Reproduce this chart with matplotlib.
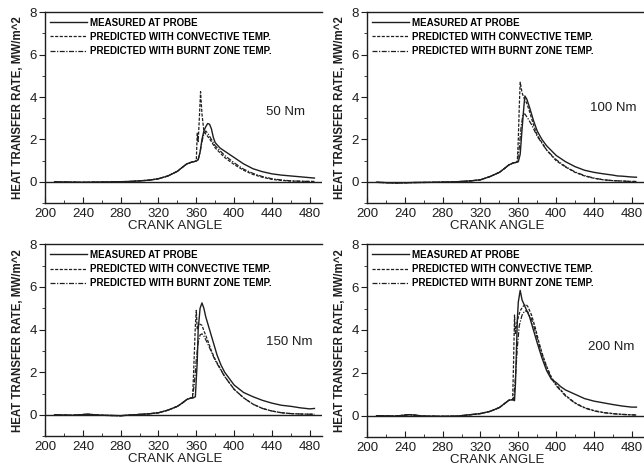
import numpy as np
import matplotlib
matplotlib.use("Agg")
import matplotlib.pyplot as plt
from matplotlib.ticker import MultipleLocator

plt.rcParams['font.family'] = ['Liberation Sans', 'DejaVu Sans']

labels = ["MEASURED AT PROBE",
          "PREDICTED WITH CONVECTIVE TEMP.",
          "PREDICTED WITH BURNT ZONE TEMP."]
loads = ["50 Nm", "100 Nm", "150 Nm", "200 Nm"]

# common part before ignition (all three curves overlap there)
pre_x = [
    [210, 240, 270, 290, 300, 310, 320, 330, 340, 345, 350, 355, 359],
    [210, 230, 250, 270, 290, 300, 310, 320, 330, 340, 345, 350, 355, 358],
    [210, 230, 245, 260, 280, 300, 310, 320, 330, 340, 345, 350, 355],
    [210, 230, 245, 260, 280, 295, 310, 320, 330, 340, 345, 350, 354],
]
pre_y = [
    [0, -0.02, 0, 0.02, 0.05, 0.08, 0.15, 0.28, 0.5, 0.68, 0.85, 0.93, 0.97],
    [-0.02, -0.05, -0.03, -0.02, 0, 0.02, 0.05, 0.1, 0.25, 0.45, 0.62, 0.8, 0.9, 0.92],
    [0, -0.02, 0.03, -0.02, -0.04, 0.02, 0.05, 0.1, 0.22, 0.4, 0.55, 0.72, 0.8],
    [0, -0.02, 0.05, -0.02, -0.03, -0.02, 0.05, 0.1, 0.2, 0.38, 0.55, 0.72, 0.75],
]

# measured at probe
meas_x = [
    [360, 362, 364, 366, 368, 370, 372, 374, 376, 378, 380, 385, 390, 400, 410, 420, 430, 440, 450, 460, 470, 480, 485],
    [360, 362, 364, 366, 367, 369, 372, 376, 380, 385, 390, 400, 410, 420, 430, 440, 450, 460, 465, 470, 480, 485],
    [357, 359, 361, 362, 364, 366, 368, 370, 374, 378, 382, 386, 390, 400, 410, 420, 430, 440, 450, 460, 470, 480, 485],
    [356, 357, 358, 359, 360, 362, 364, 366, 368, 372, 376, 380, 385, 390, 395, 400, 405, 410, 420, 430, 440, 450, 460, 470, 480, 485],
]
meas_y = [
    [0.98, 1.05, 1.4, 2.0, 2.4, 2.6, 2.75, 2.72, 2.5, 2.1, 1.85, 1.6, 1.45, 1.15, 0.85, 0.62, 0.48, 0.38, 0.32, 0.28, 0.24, 0.2, 0.18],
    [0.95, 1.3, 2.5, 3.6, 4.05, 3.9, 3.5, 2.9, 2.4, 2.0, 1.7, 1.25, 0.95, 0.72, 0.55, 0.45, 0.38, 0.32, 0.28, 0.27, 0.23, 0.22],
    [0.8, 0.85, 2.5, 4.0, 5.0, 5.25, 5.0, 4.6, 4.0, 3.4, 2.8, 2.35, 2.0, 1.4, 1.05, 0.85, 0.68, 0.55, 0.45, 0.4, 0.33, 0.28, 0.3],
    [0.7, 1.5, 3.0, 4.5, 5.3, 5.85, 5.4, 5.2, 5.0, 4.6, 4.0, 3.4, 2.7, 2.1, 1.7, 1.55, 1.35, 1.2, 1.0, 0.8, 0.68, 0.6, 0.52, 0.45, 0.4, 0.4],
]

# predicted with convective temperature
conv_x = [
    [360, 361, 362, 363, 364.5, 366, 368, 370, 372, 376, 380, 390, 400, 410, 420, 430, 440, 450, 460, 470, 480, 485],
    [359, 360, 361, 362, 364, 366, 369, 372, 376, 380, 390, 400, 410, 420, 430, 440, 450, 460, 470, 480, 485],
    [356, 357, 358, 359, 360, 361, 362, 364, 366, 368, 372, 376, 380, 390, 400, 410, 420, 430, 440, 450, 460, 470, 480, 485],
    [354, 355, 356, 357, 358, 360, 362, 365, 368, 370, 374, 378, 382, 386, 390, 395, 400, 410, 420, 430, 440, 450, 460, 470, 480, 485],
]
conv_y = [
    [1.0, 2.3, 1.9, 2.8, 4.25, 3.2, 2.4, 2.25, 2.15, 1.9, 1.6, 1.15, 0.82, 0.55, 0.35, 0.22, 0.12, 0.07, 0.04, 0.03, 0.02, 0.02],
    [1.0, 2.0, 3.5, 4.7, 4.2, 3.95, 3.7, 3.3, 2.7, 2.2, 1.5, 1.0, 0.7, 0.45, 0.28, 0.17, 0.1, 0.06, 0.04, 0.02, 0.02],
    [0.8, 1.8, 3.0, 4.2, 4.9, 4.0, 4.2, 4.25, 4.2, 3.95, 3.5, 3.0, 2.6, 1.8, 1.2, 0.8, 0.5, 0.3, 0.18, 0.1, 0.06, 0.04, 0.03, 0.03],
    [0.75, 2.5, 4.7, 3.8, 4.2, 4.6, 4.9, 5.1, 5.2, 5.1, 4.7, 4.1, 3.4, 2.8, 2.3, 1.8, 1.45, 0.95, 0.6, 0.38, 0.24, 0.15, 0.1, 0.06, 0.04, 0.03],
]

# predicted with burnt zone temperature
burnt_x = [
    [360, 362, 364, 366, 368, 370, 372, 376, 380, 390, 400, 410, 420, 430, 440, 450, 460, 470, 480, 485],
    [359, 361, 363, 365, 367, 370, 374, 380, 390, 400, 410, 420, 430, 440, 450, 460, 470, 480, 485],
    [356, 358, 360, 362, 364, 366, 368, 372, 376, 380, 390, 400, 410, 420, 430, 440, 450, 460, 470, 480, 485],
    [355, 357, 359, 361, 364, 367, 370, 374, 378, 382, 386, 390, 395, 400, 410, 420, 430, 440, 450, 460, 470, 480, 485],
]
burnt_y = [
    [1.0, 1.05, 1.4, 1.9, 2.25, 2.4, 2.3, 2.0, 1.7, 1.25, 0.9, 0.6, 0.4, 0.25, 0.15, 0.09, 0.05, 0.03, 0.02, 0.02],
    [0.95, 1.6, 2.6, 3.2, 3.2, 3.0, 2.7, 2.15, 1.5, 1.05, 0.72, 0.47, 0.3, 0.18, 0.1, 0.06, 0.04, 0.02, 0.02],
    [0.8, 1.5, 2.6, 3.4, 3.75, 3.8, 3.7, 3.35, 2.95, 2.55, 1.8, 1.2, 0.8, 0.5, 0.3, 0.18, 0.1, 0.06, 0.04, 0.03, 0.03],
    [0.75, 1.8, 3.2, 4.2, 4.7, 4.9, 4.85, 4.5, 3.95, 3.3, 2.75, 2.25, 1.75, 1.4, 0.92, 0.58, 0.36, 0.22, 0.14, 0.09, 0.06, 0.04, 0.03],
]

load_pos = [(434, 3.3), (436, 3.5), (434, 3.4), (434, 3.2)]

boxes = [
    [0.070, 0.566, 0.430, 0.408],
    [0.570, 0.566, 0.430, 0.408],
    [0.070, 0.068, 0.430, 0.410],
    [0.570, 0.066, 0.430, 0.412],
]

ink = "#1e1e1e"
fig = plt.figure(figsize=(6.44, 4.68), dpi=100)

for i in range(4):
    ax = fig.add_axes(boxes[i])
    px, py = pre_x[i], pre_y[i]
    ax.plot(px + meas_x[i], py + meas_y[i], '-', color=ink, lw=1.0, label=labels[0])
    ax.plot(px + conv_x[i], py + conv_y[i], '--', color=ink, lw=0.9,
            dashes=(2.5, 1.2), label=labels[1])
    ax.plot(px + burnt_x[i], py + burnt_y[i], '-.', color=ink, lw=0.9,
            dashes=(4, 1.2, 1, 1.2), label=labels[2])
    ax.axhline(0, color=ink, lw=1.0)

    ax.set_xlim(200, 493)
    ax.set_ylim(-1, 8)
    ax.xaxis.set_major_locator(MultipleLocator(40))
    ax.xaxis.set_minor_locator(MultipleLocator(20))
    ax.yaxis.set_major_locator(MultipleLocator(2))
    ax.yaxis.set_minor_locator(MultipleLocator(1))
    ax.set_yticks([0, 2, 4, 6, 8])
    ax.tick_params(axis='x', which='both', direction='in', colors=ink,
                   labelsize=9.5, pad=3.5)
    ax.tick_params(axis='x', which='major', length=4)
    ax.tick_params(axis='x', which='minor', length=2.5)
    ax.tick_params(axis='y', which='both', direction='out', colors=ink,
                   labelsize=9.5, pad=2)
    ax.tick_params(axis='y', which='major', length=4)
    ax.tick_params(axis='y', which='minor', length=2.5)
    ax.spines['right'].set_visible(False)
    for s in ['left', 'top', 'bottom']:
        ax.spines[s].set_color(ink)
        ax.spines[s].set_linewidth(1.0)

    ax.set_xlabel("CRANK ANGLE", fontsize=9.5, color=ink, labelpad=0, x=0.47)
    ax.set_ylabel("HEAT TRANSFER RATE, MW/m^2", fontsize=8.3, fontweight='bold',
                  color=ink, labelpad=4)
    ax.text(load_pos[i][0], load_pos[i][1], loads[i], fontsize=9.5, color=ink,
            ha='left', va='center')
    ax.legend(loc='upper left', frameon=False,
              prop={'weight': 'bold', 'size': 7}, handlelength=3.8,
              handletextpad=0.3, labelspacing=0.45, borderaxespad=0.3,
              borderpad=0.25)

fig.savefig("out.png", dpi=100)
